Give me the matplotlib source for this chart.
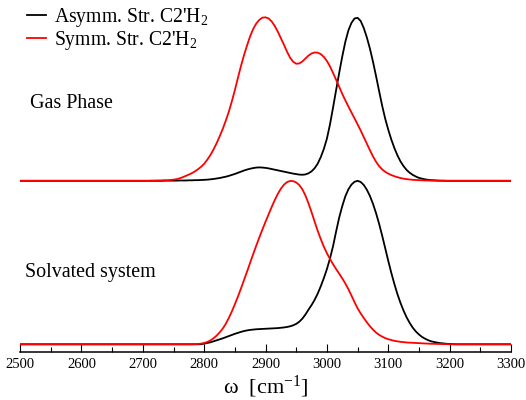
import numpy as np
import matplotlib
matplotlib.use("Agg")
import matplotlib.pyplot as plt
from matplotlib.ticker import MultipleLocator

plt.rcParams['font.family'] = ['Liberation Serif', 'DejaVu Serif']
plt.rcParams['mathtext.fontset'] = 'custom'
plt.rcParams['mathtext.rm'] = 'Liberation Serif'
plt.rcParams['mathtext.it'] = 'Liberation Serif:italic'
plt.rcParams['mathtext.default'] = 'regular'

# wavenumber grid (cm^-1): 2500, 2700..3220 every 5, 3300
wavenumber = [2500] + list(range(2700, 3225, 5)) + [3300]

# Gas phase spectra (normalised), values at the grid above
gas_asymm = [0.0,
    0, 0, 0, 0, 0, 0, 0, .001, .001, .001,
    .001, .001, .002, .002, .002, .003, .003, .004, .004, .005,
    .006, .007, .009, .011, .014, .017, .021, .025, .030, .036,
    .042, .049, .056, .063, .069, .074, .078, .081, .082, .081,
    .079, .076, .072, .068, .064, .060, .056, .052, .048, .044,
    .041, .038, .037, .039, .046, .058, .077, .105, .145, .195,
    .258, .345, .448, .555, .660, .760, .850, .920, .966, .993,
    .997, .978, .935, .878, .810, .730, .642, .550, .460, .380,
    .312, .252, .200, .155, .118, .089, .066, .049, .036, .026,
    .018, .013, .009, .006, .004, .003, .002, .001, .001, 0,
    0, 0, 0, 0, 0,
    0.0]
gas_symm = [0.0,
    0, 0, 0, .001, .001, .002, .002, .003, .003, .005,
    .007, .010, .015, .022, .030, .038, .047, .058, .071, .086,
    .104, .129, .157, .190, .228, .270, .315, .366, .421, .485,
    .555, .630, .703, .770, .830, .885, .930, .963, .985, .998,
    1.0, .993, .975, .947, .912, .872, .832, .790, .753, .728,
    .716, .718, .730, .748, .766, .779, .785, .784, .775, .758,
    .733, .700, .660, .618, .575, .532, .492, .455, .418, .382,
    .345, .308, .268, .228, .188, .150, .117, .090, .070, .055,
    .044, .035, .028, .022, .017, .013, .010, .008, .006, .005,
    .004, .003, .002, .002, .001, .001, 0, 0, 0, 0,
    0, 0, 0, 0, 0,
    0.0]

# Solvated system spectra (normalised)
solv_asymm = [0.0,
    0, 0, 0, 0, 0, 0, 0, 0, 0, 0,
    0, 0, 0, 0, 0, 0, 0, 0, 0, .001,
    .004, .008, .012, .018, .024, .030, .036, .043, .050, .057,
    .064, .070, .076, .081, .085, .088, .090, .092, .093, .094,
    .095, .096, .097, .098, .099, .101, .103, .106, .110, .116,
    .125, .138, .157, .182, .212, .240, .272, .310, .355, .405,
    .460, .525, .600, .690, .775, .845, .905, .948, .977, .994,
    1.0, .993, .975, .946, .908, .860, .803, .738, .665, .588,
    .510, .436, .368, .306, .252, .205, .164, .130, .101, .078,
    .060, .045, .034, .025, .018, .014, .010, .007, .005, .003,
    .002, .001, 0, 0, 0,
    0.0]
solv_symm = [0.0,
    0, 0, 0, 0, 0, 0, 0, 0, 0, 0,
    0, 0, 0, 0, 0, 0, 0, .001, .002, .004,
    .008, .014, .023, .036, .052, .072, .095, .124, .160, .200,
    .245, .292, .342, .394, .446, .500, .553, .605, .655, .703,
    .750, .795, .840, .882, .920, .952, .976, .992, .999, .998,
    .990, .974, .948, .910, .862, .808, .750, .694, .643, .597,
    .557, .522, .490, .460, .432, .403, .372, .337, .298, .258,
    .220, .189, .161, .135, .111, .090, .072, .058, .047, .038,
    .031, .026, .021, .018, .015, .013, .011, .010, .009, .008,
    .007, .006, .005, .004, .003, .003, .002, .002, .001, .001,
    0, 0, 0, 0, 0,
    0.0]

gas_offset = 1.0
series_labels = ["Asymm. Str. C2'H$_2$", "Symm. Str. C2'H$_2$"]
panel_labels = ["Gas Phase", "Solvated system"]

for arr in (gas_asymm, gas_symm, solv_asymm, solv_symm):
    assert len(arr) == len(wavenumber)

W, H = 526, 400
fig = plt.figure(figsize=(W / 100, H / 100), dpi=100)
ax = fig.add_axes([20.1 / W, 47.7 / H, (511 - 20.1) / W, 1 - 47.7 / H])

x = np.array(wavenumber)
lw = 1.3
h1, = ax.plot(x, np.array(gas_asymm) + gas_offset, color='black', lw=lw)
ax.plot(x, np.array(solv_asymm), color='black', lw=lw)
h2, = ax.plot(x, np.array(gas_symm) + gas_offset, color='#ff0000', lw=lw)
ax.plot(x, np.array(solv_symm), color='#ff0000', lw=lw)

ax.set_xlim(2500, 3300)
ax.set_ylim(-0.049, 2.106)
for s in ['left', 'right', 'top']:
    ax.spines[s].set_visible(False)
ax.spines['bottom'].set_linewidth(1.1)
ax.set_yticks([])
ax.xaxis.set_major_locator(MultipleLocator(100))
ax.xaxis.set_minor_locator(MultipleLocator(50))
ax.tick_params(axis='x', which='major', direction='in', length=5.8, width=0.8,
               labelsize=10.5, pad=4)
ax.tick_params(axis='x', which='minor', direction='in', length=3.4, width=0.8)

ax.set_xlabel(r"ω  [cm$^{-1}$]", fontsize=16, labelpad=2)

ax.text(30 / W, 1 - 104 / H, panel_labels[0], transform=fig.transFigure,
        fontsize=14.4, va='center', ha='left')
ax.text(25 / W, 1 - 273 / H, panel_labels[1], transform=fig.transFigure,
        fontsize=14.4, va='center', ha='left')

leg = ax.legend([h1, h2], series_labels, loc='upper left',
                bbox_to_anchor=(26.5 / W, 1 - 6 / H), bbox_transform=fig.transFigure,
                frameon=False, fontsize=14.2, borderpad=0, borderaxespad=0,
                handlelength=0.97, handletextpad=0.4, labelspacing=0.0)

fig.savefig("out.png", dpi=100)
